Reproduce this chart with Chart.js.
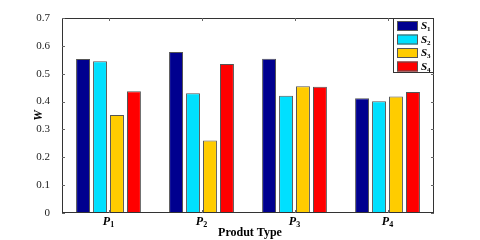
<!DOCTYPE html>
<html>
<head>
<meta charset="utf-8">
<script src="https://cdn.jsdelivr.net/npm/chart.js@4"></script>
<style>
  html, body { margin:0; padding:0; background:#fff; }
  #wrap { width:480px; height:240px; }
</style>
</head>
<body>
<div id="wrap"><canvas id="c" width="480" height="240"></canvas></div>
<script>
// --- data ---
const categories = ['P1', 'P2', 'P3', 'P4'];
const seriesNames = ['S1', 'S2', 'S3', 'S4'];
const s1 = [0.553, 0.578, 0.554, 0.412];
const s2 = [0.545, 0.430, 0.421, 0.401];
const s3 = [0.352, 0.260, 0.455, 0.418];
const s4 = [0.437, 0.535, 0.453, 0.434];
const yTicks = [0, 0.1, 0.2, 0.3, 0.4, 0.5, 0.6, 0.7];

const colors = ['#00008f', '#00e0ff', '#ffcc00', '#ff0000'];
const serif = '"Liberation Serif", "Times New Roman", serif';

// draws "X" with a subscript digit, starting at x
function subText(ctx, main, sub, x, y, size) {
  ctx.font = 'italic bold ' + size + 'px ' + serif;
  ctx.fillText(main, x, y);
  const w = ctx.measureText(main).width;
  ctx.font = 'bold ' + Math.round(size * 0.65) + 'px ' + serif;
  ctx.fillText(sub, x + w, y + size * 0.25);
  return w + ctx.measureText(sub).width;
}

// box, inward ticks, category labels, axis titles, legend
const decor = {
  id: 'decor',
  afterDraw(chart) {
    const ctx = chart.ctx;
    const a = chart.chartArea;
    const xs = chart.scales.x, ys = chart.scales.y;
    ctx.save();
    ctx.strokeStyle = '#333';
    ctx.lineWidth = 1;
    ctx.strokeRect(a.left + 0.5, a.top + 0.5, a.right - a.left - 1, a.bottom - a.top - 1);

    ctx.strokeStyle = '#666';
    ctx.beginPath();
    yTicks.forEach(v => {
      const py = Math.round(ys.getPixelForValue(v)) + 0.5;
      ctx.moveTo(a.left, py); ctx.lineTo(a.left + 3, py);
      ctx.moveTo(a.right, py); ctx.lineTo(a.right - 3, py);
    });
    categories.forEach((c, i) => {
      const px = Math.round(xs.getPixelForTick(i)) + 0.5;
      ctx.moveTo(px, a.bottom); ctx.lineTo(px, a.bottom - 3);
      ctx.moveTo(px, a.top); ctx.lineTo(px, a.top + 3);
    });
    ctx.stroke();

    // category labels P with subscript
    ctx.fillStyle = '#000';
    ctx.textBaseline = 'middle';
    ctx.textAlign = 'left';
    categories.forEach((c, i) => {
      const px = xs.getPixelForTick(i);
      ctx.font = 'italic bold 12px ' + serif;
      const w = ctx.measureText('P').width;
      ctx.font = 'bold 8px ' + serif;
      const w2 = ctx.measureText(c.slice(1)).width;
      subText(ctx, 'P', c.slice(1), px - (w + w2) / 2, a.bottom + 9, 12);
    });

    // x title
    ctx.textAlign = 'center';
    ctx.font = 'bold 12px ' + serif;
    ctx.fillText('Produt Type', (a.left + a.right) / 2 + 2, 233);

    // y title
    ctx.save();
    ctx.translate(39, (a.top + a.bottom) / 2);
    ctx.rotate(-Math.PI / 2);
    ctx.font = 'italic bold 12px ' + serif;
    ctx.fillText('W', 0, 0);
    ctx.restore();

    // legend
    const lx = 393, ly = a.top, lw = a.right - lx, lh = 55;
    ctx.fillStyle = '#fff';
    ctx.fillRect(lx, ly, lw, lh);
    ctx.strokeStyle = '#333';
    ctx.strokeRect(lx + 0.5, ly + 0.5, lw - 1, lh - 1);
    ctx.textAlign = 'left';
    seriesNames.forEach((s, i) => {
      const by = ly + 3 + i * 13.5;
      ctx.fillStyle = colors[i];
      ctx.fillRect(lx + 4, by, 21, 10);
      ctx.strokeStyle = '#555';
      ctx.strokeRect(lx + 4.5, by + 0.5, 20, 9);
      ctx.fillStyle = '#000';
      subText(ctx, 'S', s.slice(1), lx + 28, by + 5.5, 11);
    });
    ctx.restore();
  }
};

const seriesData = [s1, s2, s3, s4];

new Chart(document.getElementById('c'), {
  type: 'bar',
  data: {
    labels: categories,
    datasets: seriesNames.map((n, i) => ({
      label: n,
      data: seriesData[i],
      backgroundColor: colors[i],
      borderColor: '#555',
      borderWidth: 1,
      categoryPercentage: 0.73,
      barPercentage: 0.82
    }))
  },
  options: {
    responsive: false,
    animation: false,
    layout: { padding: { left: 0, top: 18, right: 46, bottom: 0 } },
    plugins: { legend: { display: false }, tooltip: { enabled: false } },
    scales: {
      x: {
        grid: { display: false },
        border: { display: false },
        ticks: { display: false },
        afterFit(scale) { scale.height = 27; }
      },
      y: {
        min: 0, max: 0.7,
        grid: { display: false },
        border: { display: false },
        afterBuildTicks(scale) { scale.ticks = yTicks.map(v => ({ value: v })); },
        afterFit(scale) { scale.width = 62; },
        ticks: {
          color: '#222',
          padding: 4,
          font: { family: serif, size: 11 },
          callback: v => (v === 0 ? '0' : v.toFixed(1))
        }
      }
    }
  },
  plugins: [decor]
});
</script>
</body>
</html>
